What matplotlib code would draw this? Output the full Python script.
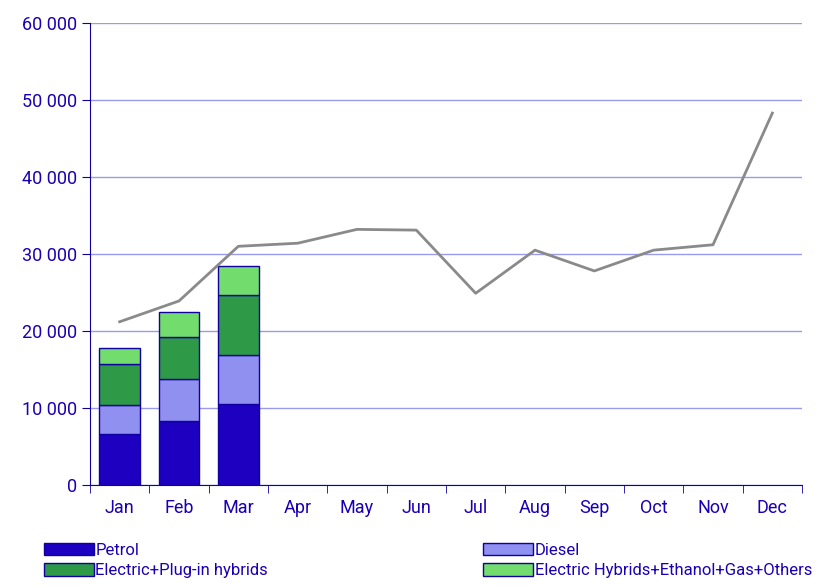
import matplotlib.pyplot as plt
from matplotlib.patches import Patch
import numpy as np

plt.rcParams["font.family"] = "Roboto"

months = ["Jan", "Feb", "Mar", "Apr", "May", "Jun", "Jul", "Aug", "Sep", "Oct", "Nov", "Dec"]
petrol = [6600, 8300, 10500]
diesel = [3800, 5500, 6400]
electric_plugin = [5300, 5400, 7800]
others = [2100, 3300, 3700]
prev_year = [21200, 23900, 31000, 31400, 33200, 33100, 24900, 30500, 27800, 30500, 31200, 48300]

txt = "#1a00b4"
fig = plt.figure(figsize=(8.22, 5.86), dpi=100)
ax = fig.add_axes([90 / 822, 1 - 485 / 586, 712 / 822, 462 / 586])

x = np.arange(len(months))
series = [
    (petrol, "#1e00c0", "Petrol"),
    (diesel, "#9090f0", "Diesel"),
    (electric_plugin, "#2e9a48", "Electric+Plug-in hybrids"),
    (others, "#72dc6c", "Electric Hybrids+Ethanol+Gas+Others"),
]
bottom = np.zeros(3)
for vals, col, lab in series:
    ax.bar(x[:3], vals, 0.68, bottom=bottom, color=col, edgecolor="#1000a0", linewidth=1, zorder=3)
    bottom += np.array(vals)
ax.plot(x, prev_year, color="#8a8a8a", linewidth=2, zorder=4)

ax.set_xlim(-0.5, 11.5)
ax.set_ylim(0, 60000)
ax.set_yticks(range(0, 60001, 10000))
ax.set_yticklabels([f"{v:,}".replace(",", " ") for v in range(0, 60001, 10000)])
ax.set_xticks(x)
ax.set_xticklabels(months)
ax.set_xticks(np.arange(-0.5, 12, 1), minor=True)
ax.tick_params(axis="x", which="major", length=0, pad=10, labelsize=13, labelcolor=txt)
ax.tick_params(axis="x", which="minor", length=6, color="#1000a0")
ax.tick_params(axis="y", length=6, color="#1000a0", labelsize=13, labelcolor=txt)
ax.grid(axis="y", color="#9a9aea", linewidth=1, zorder=0)
for s in ["top", "right"]:
    ax.spines[s].set_visible(False)
for s in ["left", "bottom"]:
    ax.spines[s].set_color("#1000a0")

handles = [Patch(facecolor=c, edgecolor="#1000a0", label=l) for _, c, l in series]
order = [0, 2, 1, 3]
fig.legend(handles=[handles[i] for i in order], loc="lower left", bbox_to_anchor=(0.035, -0.012), ncol=2,
           frameon=False, fontsize=12, labelcolor=txt, handlelength=3.0, handleheight=0.8,
           handletextpad=0.1, columnspacing=12.9, labelspacing=0.3)
fig.savefig("out.png", dpi=100)
